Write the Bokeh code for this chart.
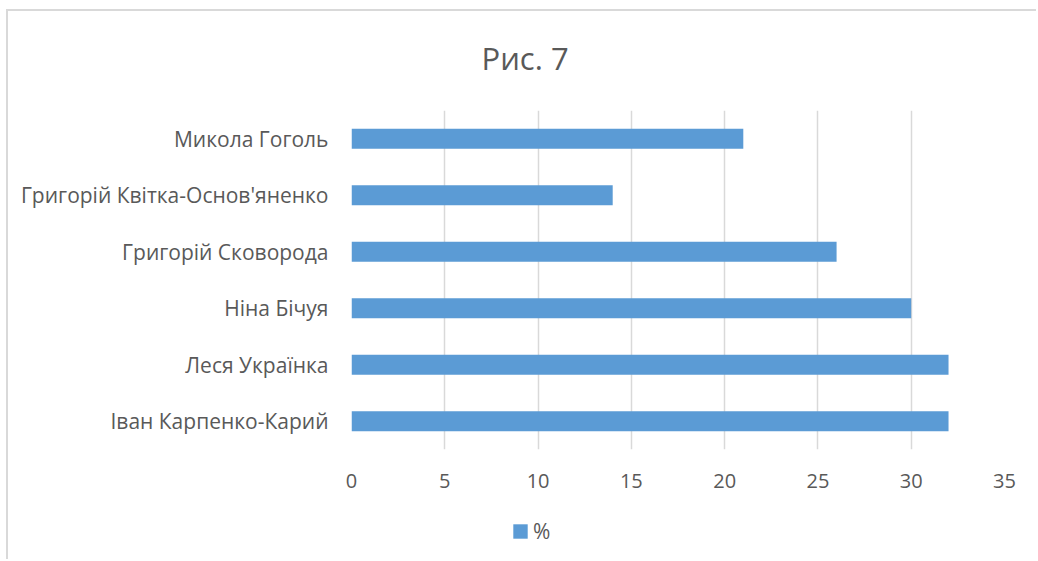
from bokeh.plotting import figure
from bokeh.models import FactorRange, Range1d, Legend, LegendItem, FixedTicker, ColumnDataSource
from bokeh.layouts import column
from bokeh.embed import file_html
from bokeh.resources import INLINE

names = ["Іван Карпенко-Карий", "Леся Українка", "Ніна Бічуя",
         "Григорій Сковорода", "Григорій Квітка-Основ'яненко", "Микола Гоголь"]
values = [32, 32, 30, 26, 14, 21]
x_ticks = [0, 5, 10, 15, 20, 25, 30, 35]
title_text = "Рис. 7"
series_label = "%"

FONT = "Open Sans"
TXT = "#595959"
GRID = "#D9D9D9"
BLUE = "#5B9BD5"

p = figure(width=1028, height=495, output_backend="svg", toolbar_location=None,
           y_range=FactorRange(factors=names, range_padding=0),
           x_range=Range1d(0, 35),
           min_border_left=343, min_border_right=32, min_border_top=108, min_border_bottom=48)
p.styles = {"margin-top": "-9px"}

p.title.text = title_text
p.title.text_font = FONT
p.title.text_font_size = "31px"
p.title.text_font_style = "normal"
p.title.text_color = TXT
p.title.align = "left"
p.title.offset = 130
p.title.standoff = 64

r = p.hbar(y=names, right=values, left=0, height=0.355, fill_color=BLUE, line_color=None)

p.outline_line_color = None
p.background_fill_color = "white"
p.border_fill_alpha = 0

p.xaxis.ticker = FixedTicker(ticks=x_ticks)
p.xaxis.axis_line_color = None
p.xaxis.major_tick_line_color = None
p.xaxis.minor_tick_line_color = None
p.xaxis.major_label_text_font = FONT
p.xaxis.major_label_text_font_size = "20px"
p.xaxis.major_label_text_color = TXT
p.xaxis.major_label_standoff = 18

p.yaxis.axis_line_color = None
p.yaxis.major_tick_line_color = None
p.yaxis.minor_tick_line_color = None
p.yaxis.major_label_text_font = FONT
p.yaxis.major_label_text_font_size = "21px"
p.yaxis.major_label_text_color = TXT
p.yaxis.major_label_standoff = 17

p.ygrid.grid_line_color = None
p.xgrid.grid_line_color = GRID
p.xgrid.grid_line_width = 1.5
p.xgrid.ticker = FixedTicker(ticks=x_ticks)

# legend strip below the chart (zero-length bar only supplies the legend key)
lf = figure(width=1028, height=62, output_backend="svg", toolbar_location=None,
            x_axis_type=None, y_axis_type=None, x_range=Range1d(0, 1), y_range=Range1d(0, 1),
            min_border=0)
lf.outline_line_color = None
lf.grid.visible = False
lf.border_fill_alpha = 0
lf.background_fill_alpha = 0
lsrc = ColumnDataSource(dict(y=[0.5], right=[0]))
lr = lf.hbar(y="y", right="right", left=0, height=0.355, fill_color=BLUE, line_color=None,
             source=lsrc)
legend = Legend(items=[LegendItem(label=series_label, renderers=[lr])],
                location=(160, 14), orientation="horizontal",
                glyph_width=18, glyph_height=18, label_standoff=4, label_height=20,
                padding=0, margin=0, spacing=0,
                label_text_font=FONT, label_text_font_size="21px", label_text_color=TXT,
                border_line_color=None, background_fill_alpha=0)
lf.add_layout(legend, "center")

layout = column(p, lf, spacing=0)
layout.styles = {"border-top": "2px solid #D9D9D9", "border-left": "2px solid #D9D9D9",
                 "margin-left": "6px", "margin-top": "9px"}

open("out.html", "w").write(file_html(layout, INLINE))
